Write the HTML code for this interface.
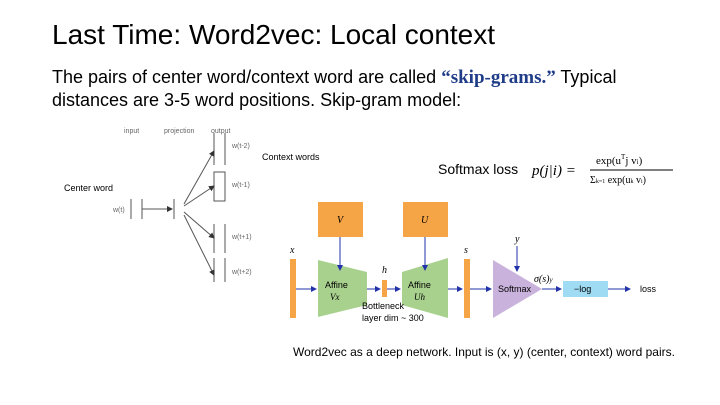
<!DOCTYPE html>
<html><head><meta charset="utf-8"><style>
body{margin:0;width:720px;height:405px;background:#fff;overflow:hidden;position:relative;font-family:"Liberation Sans",sans-serif}
.t{position:absolute;white-space:nowrap;color:#000}
</style></head><body>
<div class="t" style="left:52px;top:19px;font-size:28px">Last Time: Word2vec: Local context</div>
<div class="t" style="left:52px;top:66px;font-size:18px;line-height:22px">The pairs of center word/context word are called <b style="color:#1f3c88;font-family:'Liberation Serif',serif;font-size:19px">“skip-grams.”</b> Typical<br>distances are 3-5 word positions. Skip-gram model:</div>
<svg width="720" height="405" style="position:absolute;left:0;top:0" font-family="Liberation Sans, sans-serif">
<defs><marker id="a" markerWidth="6" markerHeight="6" refX="5" refY="3" orient="auto"><path d="M0,0L6,3L0,6z" fill="#333"/></marker>
<marker id="b" markerWidth="6" markerHeight="6" refX="5" refY="3" orient="auto"><path d="M0,0L6,3L0,6z" fill="#2233aa"/></marker></defs>
<g font-size="7" fill="#666"><text x="124" y="133">input</text><text x="164" y="133">projection</text><text x="211" y="133">output</text>
<text x="232" y="148">w(t-2)</text><text x="232" y="187">w(t-1)</text><text x="113" y="212">w(t)</text><text x="232" y="239">w(t+1)</text><text x="232" y="274">w(t+2)</text></g>
<g stroke="#555" stroke-width="1" fill="none">
<line x1="131" y1="199" x2="131" y2="219"/><line x1="142" y1="199" x2="142" y2="219"/>
<line x1="142" y1="209" x2="172" y2="209" marker-end="url(#a)"/><line x1="174" y1="199" x2="174" y2="219"/>
<line x1="214" y1="133" x2="214" y2="165"/><line x1="225" y1="133" x2="225" y2="165"/>
<rect x="214" y="172" width="11" height="29"/>
<line x1="214" y1="224" x2="214" y2="253"/><line x1="225" y1="224" x2="225" y2="253"/>
<line x1="214" y1="258" x2="214" y2="282"/><line x1="225" y1="258" x2="225" y2="282"/>
<line x1="184" y1="204" x2="214" y2="151" marker-end="url(#a)"/>
<line x1="184" y1="206" x2="214" y2="186" marker-end="url(#a)"/>
<line x1="184" y1="212" x2="214" y2="238" marker-end="url(#a)"/>
<line x1="184" y1="215" x2="214" y2="275" marker-end="url(#a)"/></g>
<text x="262" y="160" font-size="9">Context words</text>
<text x="64" y="191" font-size="9">Center word</text>
<text x="438" y="174" font-size="14">Softmax loss</text>
<text x="532" y="175" font-size="15" font-family="Liberation Serif,serif" font-style="italic">p(j|i) =</text>
<line x1="590" y1="170" x2="673" y2="170" stroke="#000"/>
<text x="596" y="164" font-size="11" font-family="Liberation Serif,serif">exp(u<tspan font-size="7" dy="-5">T</tspan><tspan dy="5">j</tspan> v<tspan font-size="7">i</tspan>)</text>
<text x="590" y="183" font-size="10" font-family="Liberation Serif,serif">Σ<tspan font-size="6">k=1</tspan> exp(u<tspan font-size="6">k</tspan> v<tspan font-size="6">i</tspan>)</text>
<g fill="#f5a545"><rect x="290" y="259" width="6" height="59"/><rect x="318" y="202" width="45" height="35"/><rect x="382" y="280" width="5" height="17"/><rect x="403" y="202" width="45" height="35"/><rect x="464" y="259" width="6" height="59"/></g>
<path d="M318,260L367,272L367,305L318,317z" fill="#a9d18e"/>
<path d="M402,272L448,258L448,318L402,305z" fill="#a9d18e"/>
<path d="M493,260L542,289L493,318z" fill="#c9b3dc"/>
<rect x="563" y="281" width="45" height="16" fill="#9fdcf3"/>
<g font-family="Liberation Serif,serif" font-style="italic" font-size="10"><text x="337" y="223">V</text><text x="421" y="223">U</text><text x="290" y="253">x</text><text x="382" y="273">h</text><text x="464" y="253">s</text><text x="515" y="242">y</text><text x="534" y="282">σ(s)<tspan font-size="7">y</tspan></text></g>
<g font-size="9"><text x="325" y="288">Affine</text><text x="330" y="300" font-style="italic" font-family="Liberation Serif,serif">Vx</text>
<text x="408" y="288">Affine</text><text x="414" y="300" font-style="italic" font-family="Liberation Serif,serif">Uh</text>
<text x="498" y="292">Softmax</text><text x="574" y="292">−log</text><text x="640" y="292">loss</text>
<text x="362" y="309">Bottleneck</text><text x="362" y="321">layer dim ~ 300</text></g>
<g stroke="#2233aa" stroke-width="1" fill="none">
<line x1="296" y1="289" x2="316" y2="289" marker-end="url(#b)"/><line x1="367" y1="289" x2="380" y2="289" marker-end="url(#b)"/>
<line x1="387" y1="289" x2="400" y2="289" marker-end="url(#b)"/><line x1="448" y1="289" x2="462" y2="289" marker-end="url(#b)"/>
<line x1="470" y1="289" x2="491" y2="289" marker-end="url(#b)"/><line x1="542" y1="289" x2="561" y2="289" marker-end="url(#b)"/>
<line x1="608" y1="289" x2="630" y2="289" marker-end="url(#b)"/>
<line x1="340" y1="237" x2="340" y2="270" marker-end="url(#b)"/><line x1="425" y1="237" x2="425" y2="270" marker-end="url(#b)"/>
<line x1="517" y1="246" x2="517" y2="271" marker-end="url(#b)"/></g>
<text x="293" y="356" font-size="12">Word2vec as a deep network. Input is (x, y) (center, context) word pairs.</text>
</svg>
</body></html>
